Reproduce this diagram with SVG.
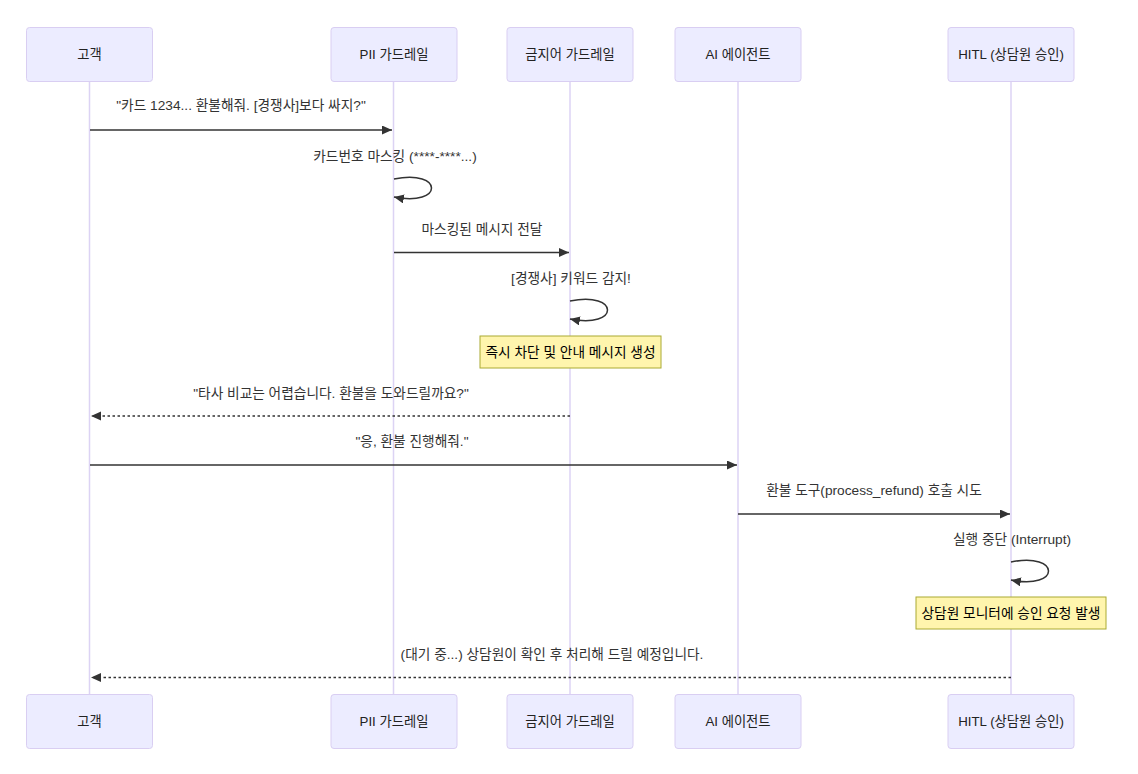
<svg xmlns="http://www.w3.org/2000/svg" width="1138" height="774" viewBox="0 0 1138 774">
<style>
  .actor rect { fill: #ECECFF; stroke: #d9cef2; stroke-width: 1; }
  .actor text { font-family: "Liberation Sans", "Noto Sans CJK KR", sans-serif; font-size: 13.3px; fill: #222; text-anchor: middle; dominant-baseline: central; }
  .lifeline { stroke: #dcd3f4; stroke-width: 1.5; }
  .msg { stroke: #333; stroke-width: 1.5; fill: none; }
  .dashed { stroke-dasharray: 2.5, 2.5; }
  .mtext { font-family: "Liberation Sans", "Noto Sans CJK KR", sans-serif; font-size: 13.7px; fill: #333; text-anchor: middle; dominant-baseline: central; }
  .note rect { fill: #fff5ad; stroke: #aaaa33; stroke-width: 1; }
  .note text { font-family: "Liberation Sans", "Noto Sans CJK KR", sans-serif; font-size: 13.7px; fill: #000; text-anchor: middle; dominant-baseline: central; }
</style>
<defs>
  <marker id="arrow" markerUnits="userSpaceOnUse" markerWidth="11" markerHeight="10" refX="10" refY="4.5" orient="auto">
    <path d="M0,0 L10,4.5 L0,9 z" fill="#333"/>
  </marker>
</defs>
<rect width="1138" height="774" fill="#fff"/>
<g id="lifelines">
  <line class="lifeline" x1="89.5" y1="81" x2="89.5" y2="694"/>
  <line class="lifeline" x1="393.5" y1="81" x2="393.5" y2="694"/>
  <line class="lifeline" x1="570" y1="81" x2="570" y2="694"/>
  <line class="lifeline" x1="738" y1="81" x2="738" y2="694"/>
  <line class="lifeline" x1="1011" y1="81" x2="1011" y2="694"/>
</g>
<g id="actor-customer" class="actor">
  <rect x="26.5" y="27.5" width="126" height="54" rx="3"/>
  <text x="89.5" y="54.5">고객</text>
  <rect x="26.5" y="694.5" width="126" height="54" rx="3"/>
  <text x="89.5" y="721.5">고객</text>
</g>
<g id="actor-pii" class="actor">
  <rect x="331" y="27.5" width="126" height="54" rx="3"/>
  <text x="394" y="54.5">PII 가드레일</text>
  <rect x="331" y="694.5" width="126" height="54" rx="3"/>
  <text x="394" y="721.5">PII 가드레일</text>
</g>
<g id="actor-banned" class="actor">
  <rect x="507" y="27.5" width="126" height="54" rx="3"/>
  <text x="570" y="54.5">금지어 가드레일</text>
  <rect x="507" y="694.5" width="126" height="54" rx="3"/>
  <text x="570" y="721.5">금지어 가드레일</text>
</g>
<g id="actor-ai" class="actor">
  <rect x="675" y="27.5" width="126" height="54" rx="3"/>
  <text x="738" y="54.5">AI 에이전트</text>
  <rect x="675" y="694.5" width="126" height="54" rx="3"/>
  <text x="738" y="721.5">AI 에이전트</text>
</g>
<g id="actor-hitl" class="actor">
  <rect x="948" y="27.5" width="126" height="54" rx="3"/>
  <text x="1011" y="54.5">HITL (상담원 승인)</text>
  <rect x="948" y="694.5" width="126" height="54" rx="3"/>
  <text x="1011" y="721.5">HITL (상담원 승인)</text>
</g>
<g id="connectors">
  <line class="msg" x1="90" y1="130" x2="392" y2="130" marker-end="url(#arrow)"/>
  <path class="msg" d="M394,179 C444,169 444,207 394,197" marker-end="url(#arrow)"/>
  <line class="msg" x1="394" y1="252.5" x2="569" y2="252.5" marker-end="url(#arrow)"/>
  <path class="msg" d="M570,301 C620,291 620,329 570,319" marker-end="url(#arrow)"/>
  <line class="msg dashed" x1="570" y1="416" x2="91" y2="416" marker-end="url(#arrow)"/>
  <line class="msg" x1="90" y1="465" x2="737" y2="465" marker-end="url(#arrow)"/>
  <line class="msg" x1="738" y1="514" x2="1010" y2="514" marker-end="url(#arrow)"/>
  <path class="msg" d="M1011,562 C1061,552 1061,590 1011,580" marker-end="url(#arrow)"/>
  <line class="msg dashed" x1="1011" y1="677.5" x2="91" y2="677.5" marker-end="url(#arrow)"/>
</g>
<g id="labels">
  <text class="mtext" x="241" y="105">"카드 1234... 환불해줘. [경쟁사]보다 싸지?"</text>
  <text class="mtext" x="395" y="156">카드번호 마스킹 (****-****...)</text>
  <text class="mtext" x="482" y="229">마스킹된 메시지 전달</text>
  <text class="mtext" x="571" y="278">[경쟁사] 키워드 감지!</text>
  <text class="mtext" x="331" y="393">"타사 비교는 어렵습니다. 환불을 도와드릴까요?"</text>
  <text class="mtext" x="412" y="441">"응, 환불 진행해줘."</text>
  <text class="mtext" x="874" y="490">환불 도구(process_refund) 호출 시도</text>
  <text class="mtext" x="1012" y="539">실행 중단 (Interrupt)</text>
  <text class="mtext" x="552" y="654">(대기 중...) 상담원이 확인 후 처리해 드릴 예정입니다.</text>
</g>
<g id="note-block" class="note">
  <rect x="480" y="336" width="181" height="32"/>
  <text x="570.5" y="352">즉시 차단 및 안내 메시지 생성</text>
</g>
<g id="note-hitl" class="note">
  <rect x="916" y="597" width="190" height="32"/>
  <text x="1011" y="613">상담원 모니터에 승인 요청 발생</text>
</g>
</svg>
